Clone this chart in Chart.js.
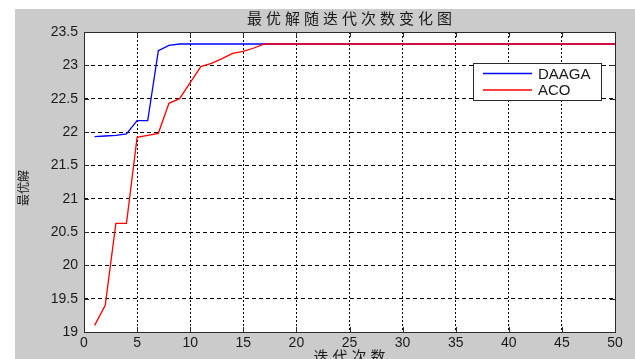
<!DOCTYPE html>
<html>
<head>
<meta charset="utf-8">
<script src="https://cdn.jsdelivr.net/npm/chart.js@4"></script>
<style>
  html, body { margin: 0; padding: 0; background: #fff; }
  #wrap { width: 635px; height: 359px; }
</style>
</head>
<body>
<div id="wrap"><canvas id="chart" width="635" height="359"></canvas></div>
<script>
// ============================== DATA

const iterations = [
  1, 2, 3, 4, 5, 6, 7, 8, 9, 10,
  11, 12, 13, 14, 15, 16, 17, 18, 19, 20,
  21, 22, 23, 24, 25, 26, 27, 28, 29, 30,
  31, 32, 33, 34, 35, 36, 37, 38, 39, 40,
  41, 42, 43, 44, 45, 46, 47, 48, 49, 50
];

const daaga = [
  21.93, 21.94, 21.95, 21.97, 22.17, 22.17, 23.22, 23.30, 23.32, 23.32,
  23.32, 23.32, 23.32, 23.32, 23.32, 23.32, 23.32, 23.32, 23.32, 23.32,
  23.32, 23.32, 23.32, 23.32, 23.32, 23.32, 23.32, 23.32, 23.32, 23.32,
  23.32, 23.32, 23.32, 23.32, 23.32, 23.32, 23.32, 23.32, 23.32, 23.32,
  23.32, 23.32, 23.32, 23.32, 23.32, 23.32, 23.32, 23.32, 23.32, 23.32
];

const aco = [
  19.10, 19.40, 20.63, 20.63, 21.92, 21.95, 21.98, 22.43, 22.50, 22.74,
  22.98, 23.03, 23.10, 23.18, 23.21, 23.26, 23.32, 23.32, 23.32, 23.32,
  23.32, 23.32, 23.32, 23.32, 23.32, 23.32, 23.32, 23.32, 23.32, 23.32,
  23.32, 23.32, 23.32, 23.32, 23.32, 23.32, 23.32, 23.32, 23.32, 23.32,
  23.32, 23.32, 23.32, 23.32, 23.32, 23.32, 23.32, 23.32, 23.32, 23.32
];

const seriesNames = ['DAAGA', 'ACO'];
const seriesColors = ['#0000ff', '#ff0000'];
const chartTitle = '最优解随迭代次数变化图';
const xTitle = '迭代次数';
const yTitle = '最优解';

// ============================== UTILS

const NUM_FONT = '"Liberation Sans", Arial, sans-serif';
const CJK_FONT = '"Noto Sans CJK SC", sans-serif';

function toPoints(values) {
  return values.map((v, i) => ({ x: iterations[i], y: v }));
}

// matlab-like figure: grey frame, axes box, inner ticks, titles, legend
const matlabFrame = {
  id: 'matlabFrame',
  beforeDraw(chart) {
    const { ctx, chartArea: a } = chart;
    ctx.save();
    ctx.fillStyle = '#fff';
    ctx.fillRect(0, 0, chart.width, chart.height);
    ctx.fillStyle = '#cbcbcb';
    ctx.fillRect(15, 9, chart.width - 15, chart.height - 9);
    ctx.fillStyle = '#fff';
    ctx.fillRect(a.left, a.top, a.right - a.left, a.bottom - a.top);
    ctx.restore();
  },
  afterDraw(chart) {
    const { ctx, chartArea: a, scales: { x, y } } = chart;
    ctx.save();

    // axes box
    ctx.strokeStyle = '#2a2a2a';
    ctx.lineWidth = 1;
    ctx.strokeRect(a.left + 0.5, a.top + 0.5, a.right - a.left, a.bottom - a.top);

    // inner ticks
    ctx.beginPath();
    x.ticks.forEach(t => {
      const px = Math.round(x.getPixelForValue(t.value)) + 0.5;
      ctx.moveTo(px, a.bottom); ctx.lineTo(px, a.bottom - 5);
      ctx.moveTo(px, a.top); ctx.lineTo(px, a.top + 5);
    });
    y.ticks.forEach(t => {
      const py = Math.round(y.getPixelForValue(t.value)) + 0.5;
      ctx.moveTo(a.left, py); ctx.lineTo(a.left + 5, py);
      ctx.moveTo(a.right, py); ctx.lineTo(a.right - 5, py);
    });
    ctx.stroke();

    // titles
    const cx = (a.left + a.right) / 2;
    ctx.fillStyle = '#1a1a1a';
    ctx.textAlign = 'center';
    ctx.textBaseline = 'middle';
    ctx.font = '15px ' + CJK_FONT;
    ctx.letterSpacing = '4px';
    ctx.fillText(chartTitle, cx + 2, 18);
    ctx.fillText(xTitle, cx + 2, 356);

    ctx.letterSpacing = '0px';
    ctx.font = '12px ' + CJK_FONT;
    ctx.translate(23, 188);
    ctx.rotate(-Math.PI / 2);
    ctx.fillText(yTitle, 0, 0);
    ctx.setTransform(1, 0, 0, 1, 0, 0);

    // legend
    const lx = 473.5, ly = 63.5, lw = 128, lh = 37;
    ctx.fillStyle = '#fff';
    ctx.fillRect(lx, ly, lw, lh);
    ctx.strokeStyle = '#2a2a2a';
    ctx.lineWidth = 1;
    ctx.strokeRect(lx, ly, lw, lh);
    ctx.font = '15px ' + NUM_FONT;
    ctx.textAlign = 'left';
    seriesNames.forEach((name, i) => {
      const rowY = 73.5 + i * 16.5;
      ctx.beginPath();
      ctx.strokeStyle = seriesColors[i];
      ctx.lineWidth = 1.5;
      ctx.moveTo(483, rowY);
      ctx.lineTo(532, rowY);
      ctx.stroke();
      ctx.fillStyle = '#1a1a1a';
      ctx.fillText(name, 538, rowY + 1);
    });

    ctx.restore();
  }
};

// ============================== CHART JS

const config = {
  type: 'line',
  data: {
    datasets: [
      {
        label: seriesNames[0],
        data: toPoints(daaga),
        borderColor: seriesColors[0],
        borderWidth: 1.3,
        pointRadius: 0,
        tension: 0,
        order: 1,
      },
      {
        label: seriesNames[1],
        data: toPoints(aco),
        borderColor: seriesColors[1],
        borderWidth: 1.3,
        pointRadius: 0,
        tension: 0,
        order: 0,
      },
    ]
  },
  options: {
    responsive: false,
    animation: false,
    layout: { padding: { left: 0, right: 20, top: 32, bottom: 0 } },
    plugins: {
      legend: { display: false },
      tooltip: { enabled: false },
      title: { display: false },
    },
    scales: {
      x: {
        type: 'linear',
        min: 0,
        max: 50,
        afterFit: (scale) => { scale.height = 27; },
        ticks: {
          stepSize: 5,
          padding: 3,
          color: '#1a1a1a',
          font: { family: NUM_FONT, size: 14 },
          maxRotation: 0,
        },
        grid: { color: '#000', lineWidth: 1, drawTicks: false },
        border: { display: false, dash: [2, 2] },
      },
      y: {
        min: 19,
        max: 23.5,
        afterFit: (scale) => { scale.width = 84; },
        ticks: {
          stepSize: 0.5,
          padding: 6,
          color: '#1a1a1a',
          font: { family: NUM_FONT, size: 14 },
          callback: (value) => String(Math.round(value * 10) / 10),
        },
        grid: { color: '#000', lineWidth: 1, drawTicks: false },
        border: { display: false, dash: [4, 3] },
      },
    },
  },
  plugins: [matlabFrame],
};

const chart = new Chart(document.getElementById('chart'), config);
</script>
</body>
</html>
